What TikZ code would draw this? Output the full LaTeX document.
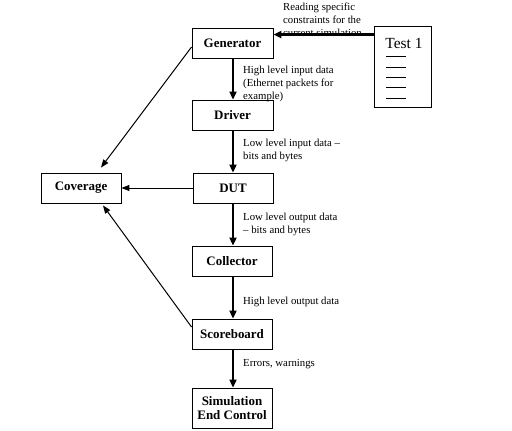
\documentclass[tikz,border=0pt]{standalone}
\usepackage{fontspec}
\setmainfont{Liberation Serif}
\usetikzlibrary{arrows.meta,calc}
\begin{document}
\begin{tikzpicture}[x=1bp,y=-1bp,
  box/.style={draw,line width=0.9bp,minimum width=81bp,minimum height=30bp,inner sep=0pt,
    font=\fontsize{13}{14}\selectfont\bfseries,align=center},
  thick arrow/.style={line width=2.2bp,-{Triangle[length=8bp,width=7bp]}},
  thin arrow/.style={line width=1bp,-{Triangle[length=8bp,width=6bp]}},
  lbl/.style={anchor=north west,inner sep=0pt,align=left,font=\fontsize{10.8}{13.3}\selectfont},
  tline/.style={line width=0.9bp}]
\useasboundingbox[fill=white] (0,0) rectangle (512,430);
\node[box] (gen) at (232.5,43) {Generator};
\node[box] (drv) at (232.5,115) {Driver};
\node[box,minimum width=80bp] (dut) at (233,188) {DUT};
\node[box,minimum width=80bp] (cov) at (81,188) {Coverage};
\node[box,minimum width=80bp] (col) at (232,261) {Collector};
\node[box,minimum width=80bp] (sb) at (232,334) {Scoreboard};
\node[box,minimum width=80bp,minimum height=40bp] (sim) at (232,408) {Simulation\\End Control};
\node[draw,line width=0.9bp,minimum width=57bp,minimum height=81bp,inner sep=0pt] (t1) at (402.5,66.5) {};
\node[inner sep=0pt,font=\fontsize{15.5}{17}\selectfont] (t1txt) at (404,43.5) {Test 1};
\foreach \yy in {56,67,77,87,98}{\draw[tline] (386,\yy) -- (406,\yy);}
% connectors
\coordinate (tin) at ([yshift=-9bp]t1.north west);
\draw[thick arrow] (tin) -- (tin -| gen.east);
\draw[thick arrow] (gen.south -| 233,0) -- (drv.north -| 233,0);
\draw[thick arrow] (drv.south -| 233,0) -- (dut.north -| 233,0);
\draw[thick arrow] (dut.south -| 233,0) -- (col.north -| 233,0);
\draw[thick arrow] (col.south -| 233,0) -- (sb.north -| 233,0);
\draw[thick arrow] (sb.south -| 233,0) -- (sim.north -| 233,0);
\draw[thin arrow] (dut.west) -- (cov.east);
\draw[thin arrow] ([yshift=-4bp]gen.west) -- ([xshift=20bp,yshift=5bp]cov.north);
\draw[thin arrow] ([yshift=7bp]sb.west) -- ([xshift=22bp,yshift=-2bp]cov.south);
% labels
\node[lbl] (l1) at (283,2.5) {Reading specific\\constraints for the\\current simulation};
\node[lbl] (l2) at (243,65.5) {High level input data\\(Ethernet packets for\\example)};
\node[lbl] (l3) at (243,138.5) {Low level input data –\\bits and bytes};
\node[lbl] (l4) at (243,212.5) {Low level output data\\– bits and bytes};
\node[lbl] (l5) at (243,296.5) {High level output data};
\node[lbl] (l6) at (243,359.5) {Errors, warnings};
\end{tikzpicture}
\end{document}
